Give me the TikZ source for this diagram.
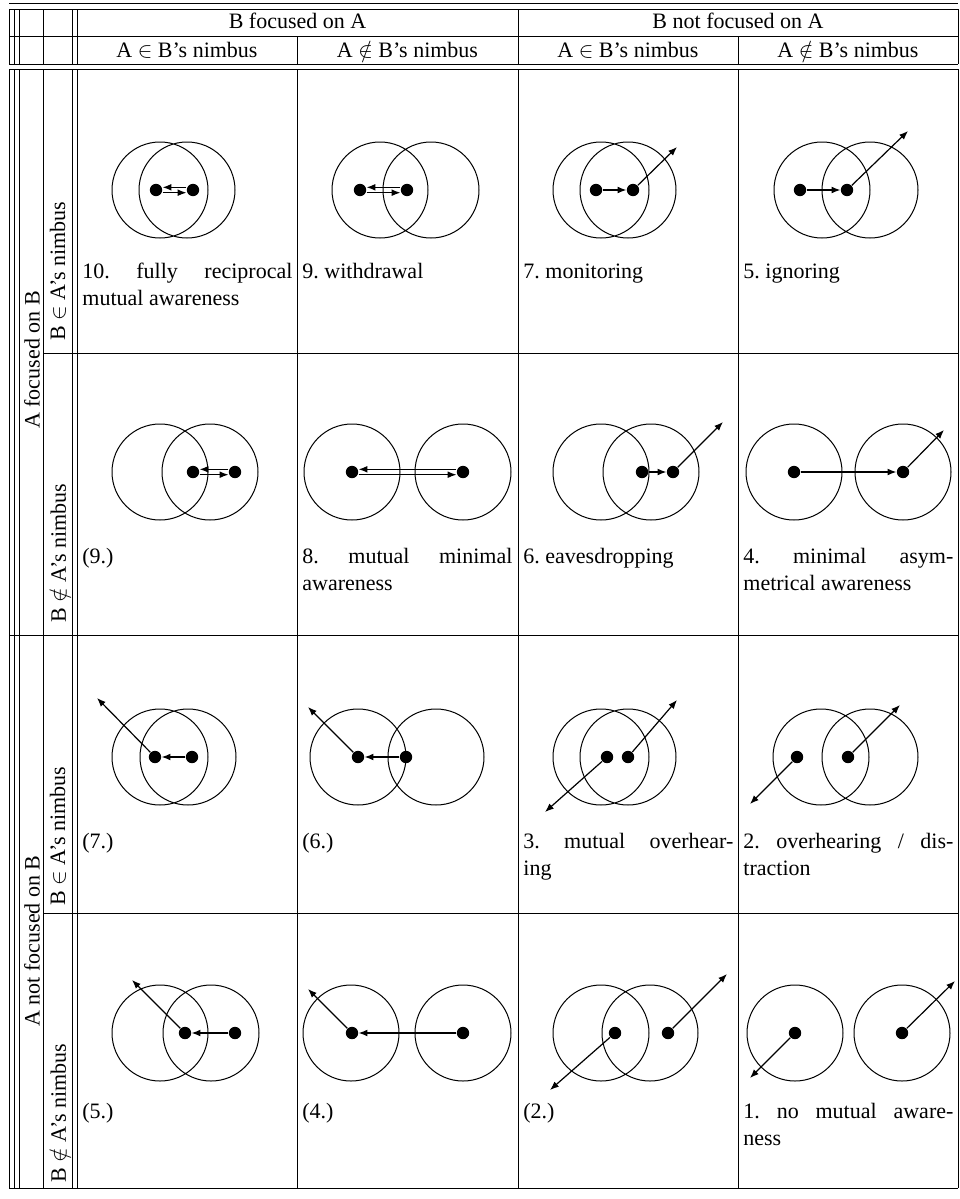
\documentclass[tikz,border=0pt]{standalone}
\usepackage{fontspec}
\setmainfont{Liberation Serif}
\usetikzlibrary{arrows.meta}
\tolerance=10000
\frenchspacing

\begin{document}
\begin{tikzpicture}[x=0.5pt, y=0.5pt,
  rule/.style={line width=0.45pt},
  nimbus/.style={line width=0.5pt},
  dot/.style={circle, fill=black, inner sep=0pt, minimum size=6.2pt},
  look/.style={line width=0.6pt, -{Latex[length=4.4pt,width=3.4pt]}},
  txt/.style={inner sep=0pt, font=\fontsize{11}{13.2}\selectfont},
  casename/.style={txt, anchor=north west, text width=105pt, align=justify},
  head/.style={txt, anchor=base},
  side/.style={txt, rotate=90}]
  \useasboundingbox (0,0) rectangle (959,-1199);

  % Linien
  \draw[rule] (9,-3) -- (958,-3) (9,-9) -- (958,-9) (9,-36) -- (958,-36)
    (9,-64) -- (958,-64) (9,-69) -- (958,-69) (43,-353) -- (958,-353)
    (9,-635) -- (958,-635) (43,-913) -- (958,-913) (9,-1188) -- (958,-1188);
  \draw[rule] (9,-9) -- (9,-64) (14,-9) -- (14,-64) (19.5,-9) -- (19.5,-64)
    (43,-9) -- (43,-64) (72,-9) -- (72,-64) (77,-9) -- (77,-64)
    (297,-36) -- (297,-64) (518,-9) -- (518,-64) (738,-36) -- (738,-64)
    (958,-9) -- (958,-64);
  \draw[rule] (9,-69) -- (9,-1188) (14,-69) -- (14,-1188) (19.5,-69) -- (19.5,-1188)
    (43,-69) -- (43,-1188) (72,-69) -- (72,-1188) (77,-69) -- (77,-1188)
    (297,-69) -- (297,-1188) (518,-69) -- (518,-1188) (738,-69) -- (738,-1188)
    (958,-69) -- (958,-1188);

  % Kopf
  \node[head] (hB1) at (297.5,-28) {B focused on A};
  \node[head] (hB2) at (738,-28) {B not focused on A};
  \node[head] (hA1) at (187,-57) {A $\in$ B's nimbus};
  \node[head] (hA2) at (407.5,-57) {A $\notin$ B's nimbus};
  \node[head] (hA3) at (628,-57) {A $\in$ B's nimbus};
  \node[head] (hA4) at (848,-57) {A $\notin$ B's nimbus};
  \node[side] (sA1) at (32,-360) {A focused on B};
  \node[side] (sA2) at (32,-941) {A not focused on B};
  \node[side] (sB1) at (58,-271) {B $\in$ A's nimbus};
  \node[side] (sB2) at (58,-553) {B $\notin$ A's nimbus};
  \node[side] (sB3) at (58,-836) {B $\in$ A's nimbus};
  \node[side] (sB4) at (58,-1113) {B $\notin$ A's nimbus};

  % Zeile 1
  \draw[nimbus] (160,-190) circle (48) (187,-190) circle (48);
  \node[dot] (a11) at (156,-190) {};
  \node[dot] (b11) at (193,-190) {};
  \draw[look] ([yshift=1.35pt]b11.west) -- ([yshift=1.35pt]a11.east);
  \draw[look] ([yshift=-1.35pt]a11.east) -- ([yshift=-1.35pt]b11.west);
  \node[casename] (t11) at (82,-260) {\strut 10. fully reciprocal\linebreak mutual awareness};

  \draw[nimbus] (380,-190) circle (48) (431,-190) circle (48);
  \node[dot] (a12) at (360,-190) {};
  \node[dot] (b12) at (407,-190) {};
  \draw[look] ([yshift=1.35pt]b12.west) -- ([yshift=1.35pt]a12.east);
  \draw[look] ([yshift=-1.35pt]a12.east) -- ([yshift=-1.35pt]b12.west);
  \node[casename] (t12) at (302,-260) {\strut 9. withdrawal};

  \draw[nimbus] (601,-190) circle (48) (628,-190) circle (48);
  \node[dot] (a13) at (596,-190) {};
  \node[dot] (b13) at (633,-190) {};
  \coordinate (gb13) at (677,-147);
  \draw[look] (a13) -- (b13);
  \draw[look] (b13) -- (gb13);
  \node[casename] (t13) at (523,-260) {\strut 7. monitoring};

  \draw[nimbus] (822,-190) circle (48) (870,-190) circle (48);
  \node[dot] (a14) at (800,-190) {};
  \node[dot] (b14) at (847,-190) {};
  \coordinate (gb14) at (908,-131);
  \draw[look] (a14) -- (b14);
  \draw[look] (b14) -- (gb14);
  \node[casename] (t14) at (743,-260) {\strut 5. ignoring};

  % Zeile 2
  \draw[nimbus] (160,-472) circle (48) (210,-472) circle (48);
  \node[dot] (a21) at (193,-472) {};
  \node[dot] (b21) at (235,-472) {};
  \draw[look] ([yshift=1.35pt]b21.west) -- ([yshift=1.35pt]a21.east);
  \draw[look] ([yshift=-1.35pt]a21.east) -- ([yshift=-1.35pt]b21.west);
  \node[casename] (t21) at (82,-545) {\strut (9.)};

  \draw[nimbus] (352,-472) circle (48) (463,-472) circle (48);
  \node[dot] (a22) at (352,-472) {};
  \node[dot] (b22) at (463,-472) {};
  \draw[look] ([yshift=1.35pt]b22.west) -- ([yshift=1.35pt]a22.east);
  \draw[look] ([yshift=-1.35pt]a22.east) -- ([yshift=-1.35pt]b22.west);
  \node[casename] (t22) at (302,-545) {\strut 8. mutual minimal\linebreak awareness};

  \draw[nimbus] (601,-472) circle (48) (651,-472) circle (48);
  \node[dot] (a23) at (642,-472) {};
  \node[dot] (b23) at (673,-472) {};
  \coordinate (gb23) at (723,-422);
  \draw[look] (a23) -- (b23);
  \draw[look] (b23) -- (gb23);
  \node[casename] (t23) at (523,-545) {\strut 6. eavesdropping};

  \draw[nimbus] (794,-472) circle (48) (903,-472) circle (48);
  \node[dot] (a24) at (794,-472) {};
  \node[dot] (b24) at (903,-472) {};
  \coordinate (gb24) at (944,-430);
  \draw[look] (a24) -- (b24);
  \draw[look] (b24) -- (gb24);
  \node[casename] (t24) at (743,-545) {\strut 4. minimal asym-\linebreak metrical awareness};

  % Zeile 3
  \draw[nimbus] (160,-757) circle (48) (188,-757) circle (48);
  \node[dot] (a31) at (155,-757) {};
  \node[dot] (b31) at (192,-757) {};
  \coordinate (ga31) at (97,-698);
  \draw[look] (b31) -- (a31);
  \draw[look] (a31) -- (ga31);
  \node[casename] (t31) at (82,-830) {\strut (7.)};

  \draw[nimbus] (358,-757) circle (48) (436,-757) circle (48);
  \node[dot] (a32) at (358,-757) {};
  \node[dot] (b32) at (406,-757) {};
  \coordinate (ga32) at (308,-707);
  \draw[look] (b32) -- (a32);
  \draw[look] (a32) -- (ga32);
  \node[casename] (t32) at (302,-830) {\strut (6.)};

  \draw[nimbus] (601,-757) circle (48) (628,-757) circle (48);
  \node[dot] (a33) at (607,-757) {};
  \node[dot] (b33) at (628,-757) {};
  \coordinate (ga33) at (545,-812);
  \coordinate (gb33) at (677,-700);
  \draw[look] (a33) -- (ga33);
  \draw[look] (b33) -- (gb33);
  \node[casename] (t33) at (523,-830) {\strut 3. mutual overhear-\linebreak ing};

  \draw[nimbus] (821,-757) circle (48) (870,-757) circle (48);
  \node[dot] (a34) at (797,-757) {};
  \node[dot] (b34) at (848,-757) {};
  \coordinate (ga34) at (750,-804);
  \coordinate (gb34) at (900,-705);
  \draw[look] (a34) -- (ga34);
  \draw[look] (b34) -- (gb34);
  \node[casename] (t34) at (743,-830) {\strut 2. overhearing / dis-\linebreak traction};

  % Zeile 4
  \draw[nimbus] (160,-1033) circle (48) (211,-1033) circle (48);
  \node[dot] (a41) at (185,-1033) {};
  \node[dot] (b41) at (235,-1033) {};
  \coordinate (ga41) at (132,-980);
  \draw[look] (b41) -- (a41);
  \draw[look] (a41) -- (ga41);
  \node[casename] (t41) at (82,-1100) {\strut (5.)};

  \draw[nimbus] (351,-1033) circle (48) (463,-1033) circle (48);
  \node[dot] (a42) at (352,-1033) {};
  \node[dot] (b42) at (463,-1033) {};
  \coordinate (ga42) at (308,-989);
  \draw[look] (b42) -- (a42);
  \draw[look] (a42) -- (ga42);
  \node[casename] (t42) at (302,-1100) {\strut (4.)};

  \draw[nimbus] (601,-1033) circle (48) (650,-1033) circle (48);
  \node[dot] (a43) at (615,-1033) {};
  \node[dot] (b43) at (668,-1033) {};
  \coordinate (ga43) at (550,-1090);
  \coordinate (gb43) at (727,-974);
  \draw[look] (a43) -- (ga43);
  \draw[look] (b43) -- (gb43);
  \node[casename] (t43) at (523,-1100) {\strut (2.)};

  \draw[nimbus] (795,-1033) circle (48) (902,-1033) circle (48);
  \node[dot] (a44) at (795,-1033) {};
  \node[dot] (b44) at (902,-1033) {};
  \coordinate (ga44) at (750,-1078);
  \coordinate (gb44) at (955,-981);
  \draw[look] (a44) -- (ga44);
  \draw[look] (b44) -- (gb44);
  \node[casename] (t44) at (743,-1100) {\strut 1. no mutual aware-\linebreak ness};
\end{tikzpicture}
\end{document}
